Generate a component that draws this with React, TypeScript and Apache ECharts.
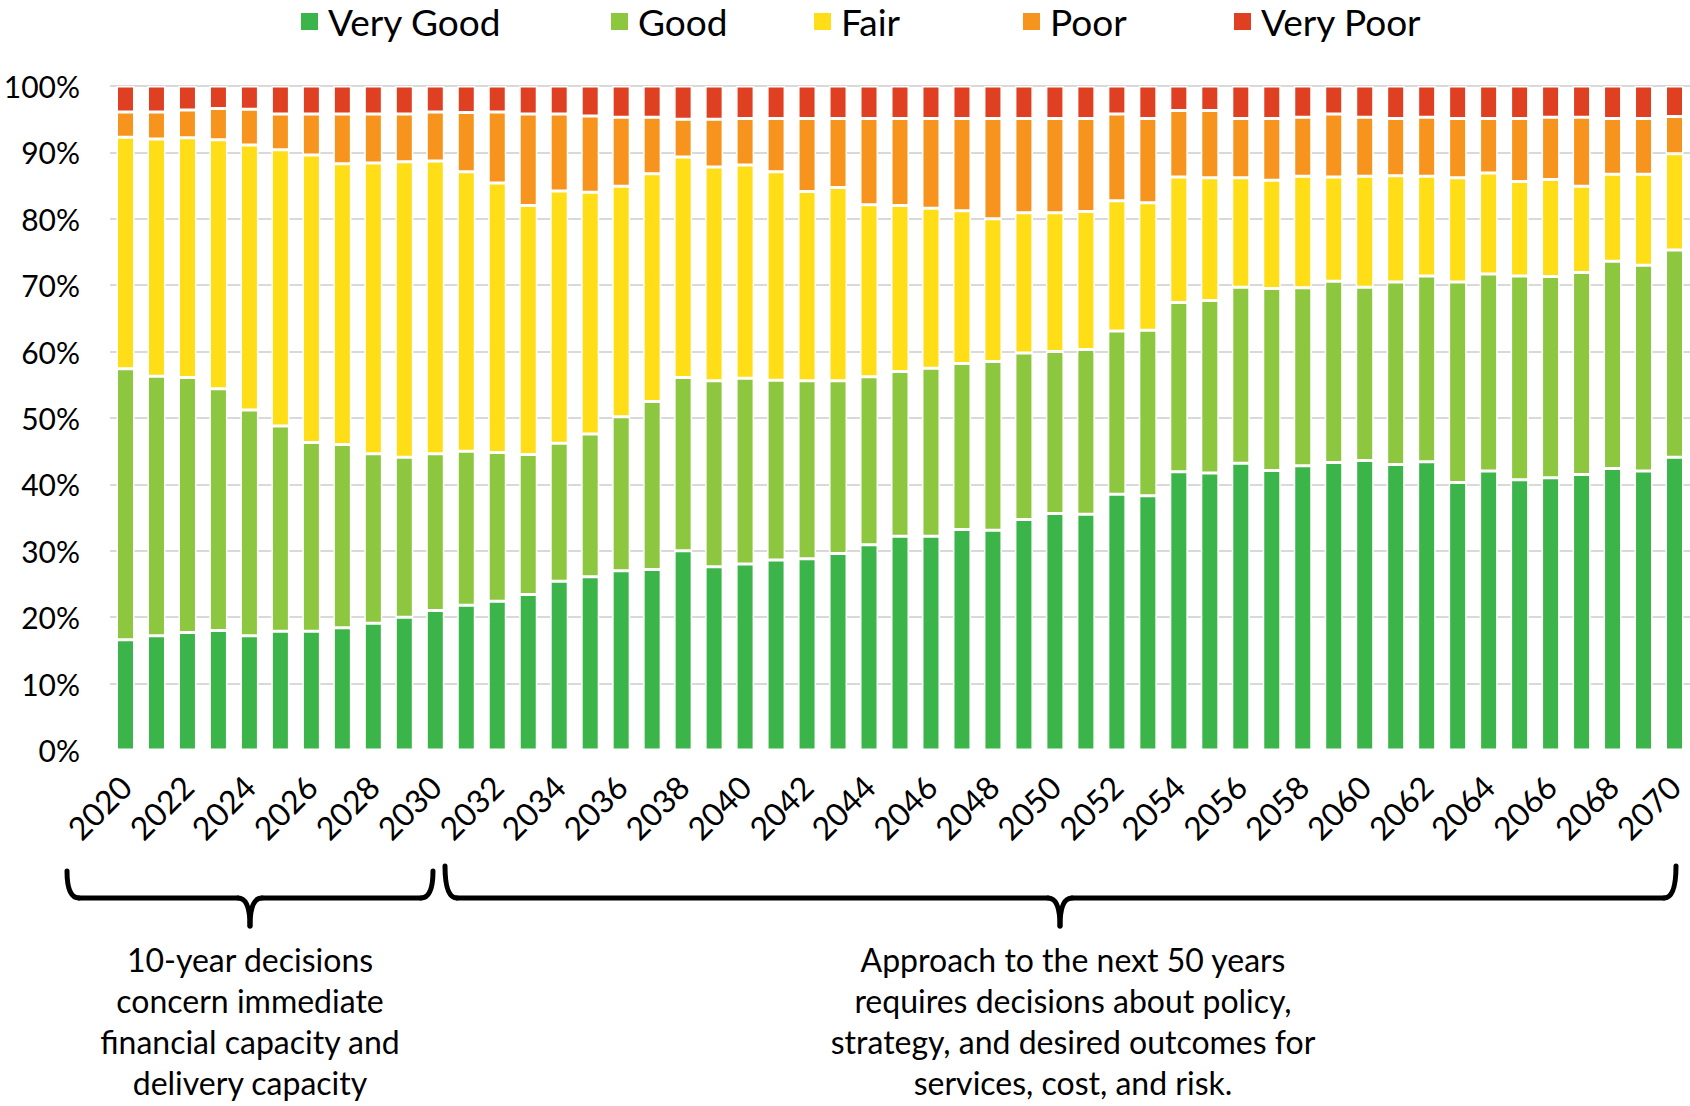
import React, { useEffect, useRef } from 'react';
import * as echarts from 'echarts';

const years = [
  '2020', '2021', '2022', '2023', '2024', '2025', '2026', '2027', '2028', '2029',
  '2030', '2031', '2032', '2033', '2034', '2035', '2036', '2037', '2038', '2039',
  '2040', '2041', '2042', '2043', '2044', '2045', '2046', '2047', '2048', '2049',
  '2050', '2051', '2052', '2053', '2054', '2055', '2056', '2057', '2058', '2059',
  '2060', '2061', '2062', '2063', '2064', '2065', '2066', '2067', '2068', '2069',
  '2070',
];

const veryGood = [
  16.6, 17.2, 17.7, 18.0, 17.2, 17.9, 17.9, 18.4, 19.1, 20.0,
  21.0, 21.8, 22.4, 23.4, 25.4, 26.1, 27.0, 27.2, 30.0, 27.6,
  28.0, 28.6, 28.8, 29.6, 30.9, 32.2, 32.2, 33.2, 33.1, 34.7,
  35.6, 35.5, 38.5, 38.3, 41.9, 41.7, 43.2, 42.1, 42.8, 43.3,
  43.6, 43.0, 43.4, 40.3, 42.0, 40.7, 41.0, 41.5, 42.4, 42.0,
  44.1,
];

const good = [
  40.8, 39.1, 38.4, 36.4, 34.0, 30.9, 28.4, 27.6, 25.5, 24.1,
  23.6, 23.2, 22.4, 21.1, 20.8, 21.5, 23.2, 25.3, 26.1, 28.0,
  28.0, 27.1, 26.8, 26.0, 25.3, 24.8, 25.3, 25.0, 25.4, 25.1,
  24.4, 24.8, 24.6, 24.9, 25.5, 26.0, 26.5, 27.4, 26.8, 27.3,
  26.1, 27.5, 28.0, 30.2, 29.7, 30.7, 30.3, 30.4, 31.2, 31.0,
  31.2,
];

const fair = [
  34.9, 35.7, 36.1, 37.5, 39.9, 41.6, 43.3, 42.3, 43.8, 44.5,
  44.1, 42.1, 40.6, 37.5, 38.0, 36.4, 34.7, 34.3, 33.2, 32.2,
  32.1, 31.4, 28.5, 29.1, 25.9, 25.0, 24.1, 23.0, 21.5, 21.1,
  20.9, 20.8, 19.6, 19.2, 18.9, 18.5, 16.5, 16.3, 16.8, 15.7,
  16.7, 16.0, 15.0, 15.7, 15.2, 14.2, 14.6, 13.0, 13.1, 13.7,
  14.5,
];

const poor = [
  3.8, 4.1, 4.2, 4.7, 5.4, 5.4, 6.2, 7.5, 7.4, 7.2,
  7.4, 8.9, 10.7, 13.8, 11.6, 11.5, 10.4, 8.5, 5.7, 7.2,
  7.0, 8.0, 11.0, 10.4, 13.0, 13.1, 13.5, 13.9, 15.1, 14.2,
  14.2, 14.0, 13.1, 12.7, 10.0, 10.1, 8.9, 9.3, 8.9, 9.5,
  8.9, 8.6, 8.9, 8.9, 8.2, 9.5, 9.4, 10.4, 8.4, 8.4,
  5.6,
];

const veryPoor = [
  3.9, 3.9, 3.6, 3.4, 3.5, 4.2, 4.2, 4.2, 4.2, 4.2,
  3.9, 4.0, 3.9, 4.2, 4.2, 4.5, 4.7, 4.7, 5.0, 5.0,
  4.9, 4.9, 4.9, 4.9, 4.9, 4.9, 4.9, 4.9, 4.9, 4.9,
  4.9, 4.9, 4.2, 4.9, 3.7, 3.7, 4.9, 4.9, 4.7, 4.2,
  4.7, 4.9, 4.7, 4.9, 4.9, 4.9, 4.7, 4.7, 4.9, 4.9,
  4.6,
];

const seriesNames = ['Very Good', 'Good', 'Fair', 'Poor', 'Very Poor'];
const seriesColors = ['#3bb54a', '#8dc63f', '#ffdd17', '#f7941d', '#e04022'];
const seriesData = [veryGood, good, fair, poor, veryPoor];

const leftNote = [
  '10-year decisions',
  'concern immediate',
  'financial capacity and',
  'delivery capacity',
];
const rightNote = [
  'Approach to the next 50 years',
  'requires decisions about policy,',
  'strategy, and desired outcomes for',
  'services, cost, and risk.',
];

const FONT = 'Lato, "Open Sans", sans-serif';

function bracket(x1: number, x2: number, xc: number, yTopL: number, yTopR: number, yMid: number, yTip: number) {
  const r = 12;
  const style = { stroke: '#000', lineWidth: 5, fill: 'none', lineCap: 'round' };
  return [
    { type: 'bezierCurve', shape: { x1: x1, y1: yTopL, cpx1: x1, cpy1: yMid, x2: x1 + r, y2: yMid }, style },
    { type: 'line', shape: { x1: x1 + r, y1: yMid, x2: xc - r, y2: yMid }, style },
    { type: 'bezierCurve', shape: { x1: xc - r, y1: yMid, cpx1: xc, cpy1: yMid, x2: xc, y2: yTip }, style },
    { type: 'bezierCurve', shape: { x1: xc + r, y1: yMid, cpx1: xc, cpy1: yMid, x2: xc, y2: yTip }, style },
    { type: 'line', shape: { x1: xc + r, y1: yMid, x2: x2 - r, y2: yMid }, style },
    { type: 'bezierCurve', shape: { x1: x2 - r, y1: yMid, cpx1: x2, cpy1: yMid, x2: x2, y2: yTopR }, style },
  ];
}

function noteTexts(lines: string[], cx: number, y0: number, lh: number) {
  return lines.map((t, i) => ({
    type: 'text',
    x: cx,
    y: y0 + i * lh,
    style: {
      text: t,
      font: `32px ${FONT}`,
      fill: '#000',
      textAlign: 'center',
      textVerticalAlign: 'middle',
    },
  }));
}

export default function App() {
  const ref = useRef<HTMLDivElement>(null);

  useEffect(() => {
    if (!ref.current) return;
    const chart = echarts.init(ref.current, undefined, { renderer: 'svg' });

    const legendLefts = [301, 611, 814, 1023, 1234];

    const option = {
      animation: false,
      backgroundColor: '#fff',
      textStyle: { fontFamily: FONT },
      legend: seriesNames.map((n, i) => ({
        data: [n],
        left: legendLefts[i],
        top: 3,
        padding: 0,
        icon: 'rect',
        itemWidth: 17,
        itemHeight: 17,
        itemGap: 0,
        selectedMode: false,
        itemStyle: { borderWidth: 0 },
        textStyle: { fontSize: 37, color: '#000', fontFamily: FONT, padding: [0, 0, 0, 5] },
      })),
      grid: { left: 110, top: 86, width: 1585, height: 664 },
      xAxis: {
        type: 'category',
        data: years,
        axisLine: { show: false },
        axisTick: { show: false },
        axisLabel: {
          interval: 1,
          rotate: 45,
          fontSize: 32,
          color: '#000',
          margin: 31,
          fontFamily: FONT,
        },
      },
      yAxis: {
        type: 'value',
        min: 0,
        max: 100,
        interval: 10,
        axisLine: { show: false },
        axisTick: { show: false },
        axisLabel: {
          formatter: '{value}%',
          fontSize: 30,
          color: '#000',
          margin: 30,
          fontFamily: FONT,
        },
        splitLine: {
          lineStyle: {
            color: ['rgba(0,0,0,0)', '#d9d9d9', '#d9d9d9', '#d9d9d9', '#d9d9d9', '#d9d9d9', '#d9d9d9', '#d9d9d9', '#d9d9d9', '#d9d9d9', '#d9d9d9'],
            width: 2,
          },
        },
      },
      series: seriesNames.map((n, i) => ({
        name: n,
        type: 'bar',
        stack: 'total',
        barWidth: 18,
        data: seriesData[i],
        itemStyle: { color: seriesColors[i], borderColor: '#fff', borderWidth: 1.5 },
      })),
      graphic: [
        ...bracket(67, 433, 250, 871, 871, 898, 926),
        ...bracket(445, 1676, 1060, 866, 866, 898, 926),
        ...noteTexts(leftNote, 250, 959, 41),
        ...noteTexts(rightNote, 1073, 959, 41),
      ],
    };

    chart.setOption(option as any);
    return () => chart.dispose();
  }, []);

  return (
    <div
      ref={ref}
      style={{ position: 'absolute', left: 0, top: 0, width: 1690, height: 1106 }}
    />
  );
}
